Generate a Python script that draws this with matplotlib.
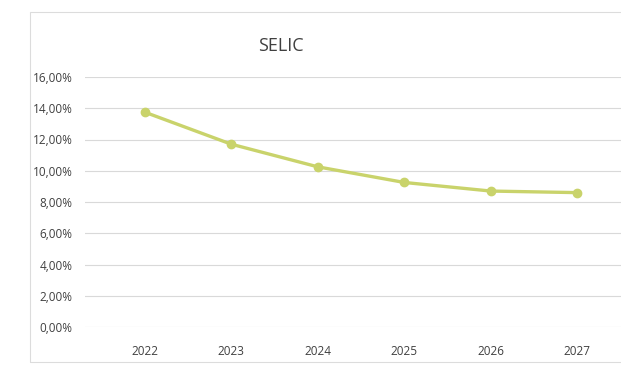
import matplotlib
matplotlib.use('Agg')
import matplotlib.pyplot as plt
from matplotlib.patches import Rectangle

# Projeção da taxa Selic por ano
anos = ['2022', '2023', '2024', '2025', '2026', '2027']
selic = [13.75, 11.70, 10.25, 9.25, 8.70, 8.60]
ticks_y = [0, 2, 4, 6, 8, 10, 12, 14, 16]
rotulos_y = ['0,00%', '2,00%', '4,00%', '6,00%', '8,00%', '10,00%', '12,00%', '14,00%', '16,00%']

cor_linha = '#c9d36b'
cor_texto = '#404040'

plt.rcParams['font.family'] = ['Open Sans', 'DejaVu Sans']

fig = plt.figure(figsize=(6.21, 3.72), dpi=100)
fig.patch.set_facecolor('white')

# moldura do gráfico
moldura = Rectangle((30 / 621, 1 - 362 / 372), 1.0, 350 / 372,
                    transform=fig.transFigure, fill=False,
                    edgecolor='#dcdcdc', linewidth=0.8)
fig.patches.append(moldura)

ax = fig.add_axes([85 / 621, 1 - 327 / 372, 553 / 621, 250 / 372])
x = list(range(len(anos)))
ax.plot(x, selic, color=cor_linha, linewidth=2.4, marker='o',
        markersize=6, markerfacecolor=cor_linha, markeredgecolor=cor_linha,
        solid_capstyle='round', zorder=3)

ax.set_xlim(-0.69, 5.7)
ax.set_ylim(0, 16)
ax.set_yticks(ticks_y)
ax.set_yticklabels(rotulos_y)
ax.set_xticks(x)
ax.set_xticklabels(anos)
ax.grid(axis='y', color='#d9d9d9', linewidth=0.8)
ax.set_axisbelow(True)
for lado in ax.spines.values():
    lado.set_visible(False)
ax.tick_params(axis='both', length=0, colors=cor_texto, labelsize=8.5)
ax.tick_params(axis='y', pad=9)
ax.tick_params(axis='x', pad=13)

fig.text(281 / 621, 1 - 46 / 372, 'SELIC', ha='center', va='center',
         fontsize=13, color=cor_texto)

fig.savefig('out.png', dpi=100, facecolor='white')
